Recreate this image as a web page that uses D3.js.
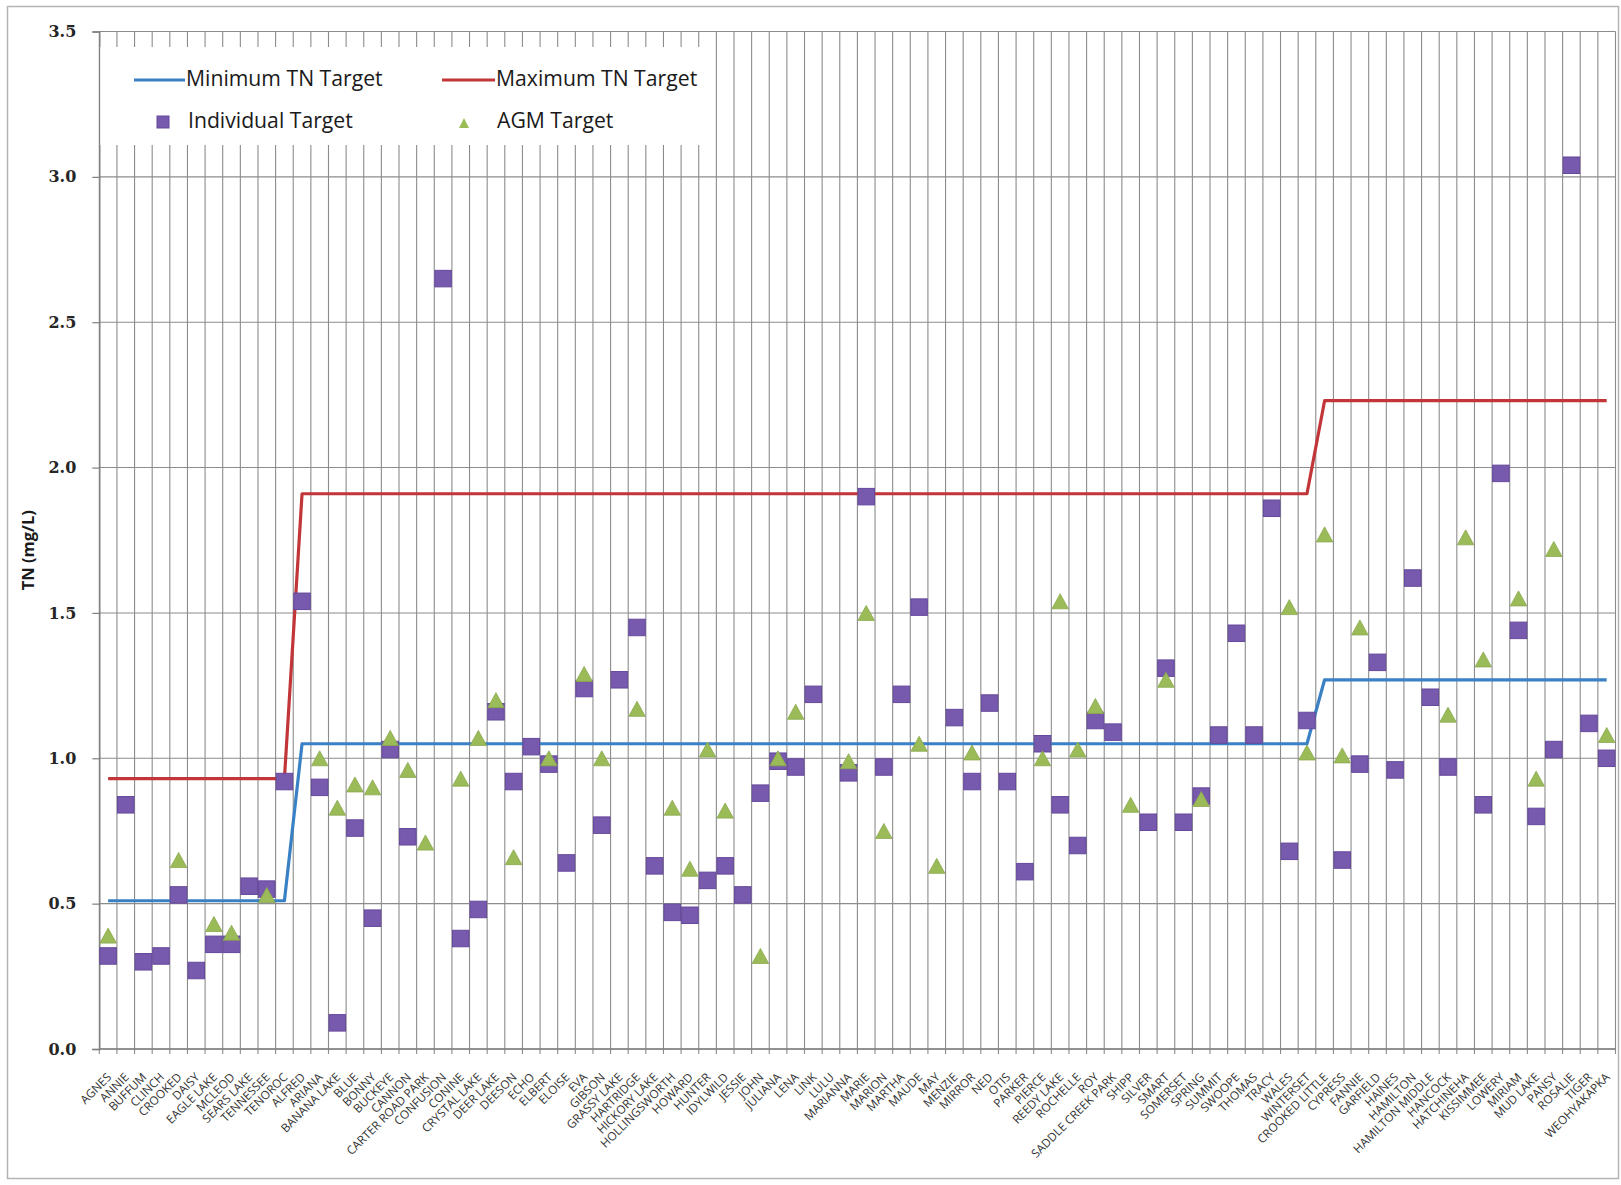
<!DOCTYPE html>
<html>
<head>
<meta charset="utf-8">
<script src="https://cdn.jsdelivr.net/npm/d3@7"></script>
<style>
  html, body { margin: 0; padding: 0; background: #ffffff; }
  svg { display: block; }
</style>
</head>
<body>
<svg id="chart" width="1621" height="1185"></svg>
<script>
// Lakes along the x axis
const categories = [
  "AGNES","ANNIE","BUFFUM","CLINCH","CROOKED","DAISY","EAGLE LAKE","MCLEOD","SEARS LAKE","TENNESSEE","TENOROC",
  "ALFRED","ARIANA","BANANA LAKE","BLUE","BONNY","BUCKEYE","CANNON","CARTER ROAD PARK","CONFUSION","CONINE",
  "CRYSTAL LAKE","DEER LAKE","DEESON","ECHO","ELBERT","ELOISE","EVA","GIBSON","GRASSY LAKE","HARTRIDGE",
  "HICKORY LAKE","HOLLINGSWORTH","HOWARD","HUNTER","IDYLWILD","JESSIE","JOHN","JULIANA","LENA","LINK","LULU",
  "MARIANNA","MARIE","MARION","MARTHA","MAUDE","MAY","MENZIE","MIRROR","NED","OTIS","PARKER","PIERCE",
  "REEDY LAKE","ROCHELLE","ROY","SADDLE CREEK PARK","SHIPP","SILVER","SMART","SOMERSET","SPRING","SUMMIT",
  "SWOOPE","THOMAS","TRACY","WALES","WINTERSET","CROOKED LITTLE","CYPRESS","FANNIE","GARFIELD","HAINES",
  "HAMILTON","HAMILTON MIDDLE","HANCOCK","HATCHINEHA","KISSIMMEE","LOWERY","MIRIAM","MUD LAKE","PANSY",
  "ROSALIE","TIGER","WEOHYAKAPKA"
];

// Individual TN target per lake (mg/L); null where none is set
const individualTarget = [
  0.32, 0.84, 0.30, 0.32, 0.53, 0.27, 0.36, 0.36, 0.56, 0.55, 0.92,
  1.54, 0.90, 0.09, 0.76, 0.45, 1.03, 0.73, null, 2.65, 0.38,
  0.48, 1.16, 0.92, 1.04, 0.98, 0.64, 1.24, 0.77, 1.27, 1.45,
  0.63, 0.47, 0.46, 0.58, 0.63, 0.53, 0.88, 0.99, 0.97, 1.22, null,
  0.95, 1.90, 0.97, 1.22, 1.52, null, 1.14, 0.92, 1.19, 0.92, 0.61, 1.05,
  0.84, 0.70, 1.13, 1.09, null, 0.78, 1.31, 0.78, 0.87, 1.08,
  1.43, 1.08, 1.86, 0.68, 1.13, null, 0.65, 0.98, 1.33, 0.96,
  1.62, 1.21, 0.97, null, 0.84, 1.98, 1.44, 0.80, 1.03,
  3.04, 1.12, 1.00
];

// AGM TN target per lake (mg/L); null where none is set
const agmTarget = [
  0.39, null, null, null, 0.65, null, 0.43, 0.40, null, 0.53, null,
  null, 1.00, 0.83, 0.91, 0.90, 1.07, 0.96, 0.71, null, 0.93,
  1.07, 1.20, 0.66, null, 1.00, null, 1.29, 1.00, null, 1.17,
  null, 0.83, 0.62, 1.03, 0.82, null, 0.32, 1.00, 1.16, null, null,
  0.99, 1.50, 0.75, null, 1.05, 0.63, null, 1.02, null, null, null, 1.00,
  1.54, 1.03, 1.18, null, 0.84, null, 1.27, null, 0.86, null,
  null, null, null, 1.52, 1.02, 1.77, 1.01, 1.45, null, null,
  null, null, 1.15, 1.76, 1.34, null, 1.55, 0.93, 1.72,
  null, null, 1.08
];

// Minimum TN target by lake class
const minTarget = [
  0.51, 0.51, 0.51, 0.51, 0.51, 0.51, 0.51, 0.51, 0.51, 0.51, 0.51,
  1.05, 1.05, 1.05, 1.05, 1.05, 1.05, 1.05, 1.05, 1.05, 1.05,
  1.05, 1.05, 1.05, 1.05, 1.05, 1.05, 1.05, 1.05, 1.05, 1.05,
  1.05, 1.05, 1.05, 1.05, 1.05, 1.05, 1.05, 1.05, 1.05, 1.05, 1.05,
  1.05, 1.05, 1.05, 1.05, 1.05, 1.05, 1.05, 1.05, 1.05, 1.05, 1.05, 1.05,
  1.05, 1.05, 1.05, 1.05, 1.05, 1.05, 1.05, 1.05, 1.05, 1.05,
  1.05, 1.05, 1.05, 1.05, 1.05, 1.27, 1.27, 1.27, 1.27, 1.27,
  1.27, 1.27, 1.27, 1.27, 1.27, 1.27, 1.27, 1.27, 1.27,
  1.27, 1.27, 1.27
];

// Maximum TN target by lake class
const maxTarget = [
  0.93, 0.93, 0.93, 0.93, 0.93, 0.93, 0.93, 0.93, 0.93, 0.93, 0.93,
  1.91, 1.91, 1.91, 1.91, 1.91, 1.91, 1.91, 1.91, 1.91, 1.91,
  1.91, 1.91, 1.91, 1.91, 1.91, 1.91, 1.91, 1.91, 1.91, 1.91,
  1.91, 1.91, 1.91, 1.91, 1.91, 1.91, 1.91, 1.91, 1.91, 1.91, 1.91,
  1.91, 1.91, 1.91, 1.91, 1.91, 1.91, 1.91, 1.91, 1.91, 1.91, 1.91, 1.91,
  1.91, 1.91, 1.91, 1.91, 1.91, 1.91, 1.91, 1.91, 1.91, 1.91,
  1.91, 1.91, 1.91, 1.91, 1.91, 2.23, 2.23, 2.23, 2.23, 2.23,
  2.23, 2.23, 2.23, 2.23, 2.23, 2.23, 2.23, 2.23, 2.23,
  2.23, 2.23, 2.23
];

const yTicks = [0, 0.5, 1.0, 1.5, 2.0, 2.5, 3.0, 3.5];
const yTitle = "TN (mg/L)";
const legendNames = ["Minimum TN Target", "Maximum TN Target", "Individual Target", "AGM Target"];

// ---- layout & styles ----
const COLORS = { min: "#3a80c4", max: "#c23539", square: "#7759ad", squareEdge: "#65499c", tri: "#9bbb59", grid: "#8c8c8c" };
const plot = { left: 99.3, right: 1615.5, top: 31.5, bottom: 1049 };

const svg = d3.select("#chart");

// chart frame
svg.append("rect")
  .attr("x", 7.5).attr("y", 6.5).attr("width", 1611).attr("height", 1172)
  .attr("fill", "#ffffff").attr("stroke", "#b4b4b4").attr("stroke-width", 1.5);

const x = d3.scaleBand().domain(categories).range([plot.left, plot.right]).padding(0);
const y = d3.scaleLinear().domain([0, 3.5]).range([plot.bottom, plot.top]);
const cx = d => x(d) + x.bandwidth() / 2;

// vertical gridlines at category boundaries
const bounds = categories.map(c => x(c)).concat([plot.right]);
const grid = svg.append("g").attr("class", "grid");
grid.selectAll("line.v").data(bounds).join("line")
  .attr("class", "v")
  .attr("x1", d => d).attr("x2", d => d)
  .attr("y1", plot.top).attr("y2", plot.bottom + 5)
  .attr("stroke", COLORS.grid).attr("stroke-width", 1.1);

// horizontal gridlines
grid.selectAll("line.h").data(yTicks).join("line")
  .attr("class", "h")
  .attr("x1", plot.left).attr("x2", plot.right)
  .attr("y1", d => y(d)).attr("y2", d => y(d))
  .attr("stroke", COLORS.grid).attr("stroke-width", 1.1);

// y axis
const yAxis = svg.append("g")
  .attr("transform", `translate(${plot.left},0)`)
  .call(d3.axisLeft(y).tickValues(yTicks).tickFormat(d3.format(".1f")).tickSize(7).tickPadding(16));
yAxis.select(".domain").attr("stroke", "#7f7f7f").attr("stroke-width", 1.4);
yAxis.selectAll(".tick line").attr("stroke", "#7f7f7f").attr("stroke-width", 1.2);
yAxis.selectAll(".tick text")
  .attr("font-family", "DejaVu Serif").attr("font-weight", "bold").attr("font-size", 16).attr("fill", "#262626");

// x axis baseline
svg.append("line")
  .attr("x1", plot.left).attr("x2", plot.right)
  .attr("y1", plot.bottom).attr("y2", plot.bottom)
  .attr("stroke", "#7f7f7f").attr("stroke-width", 1.6);

// x category labels
const xAxis = svg.append("g")
  .attr("transform", `translate(0,${plot.bottom})`)
  .call(d3.axisBottom(x).tickSize(0).tickPadding(0));
xAxis.select(".domain").remove();
xAxis.selectAll(".tick text")
  .attr("font-family", "Open Sans").attr("font-size", 11.8).attr("fill", "#333333")
  .attr("text-anchor", "end")
  .attr("dy", "0.35em").attr("y", 0)
  .attr("transform", "translate(1,26) rotate(-45)");

// y axis title
svg.append("text")
  .attr("transform", `translate(34,${(plot.top + plot.bottom) / 2 + 10}) rotate(-90)`)
  .attr("text-anchor", "middle")
  .attr("font-family", "Open Sans").attr("font-weight", "bold").attr("font-size", 16.5).attr("fill", "#1a1a1a")
  .text(yTitle);

// target lines
const line = d3.line().x((d, i) => cx(categories[i])).y(d => y(d));
svg.append("path").datum(minTarget).attr("d", line)
  .attr("fill", "none").attr("stroke", COLORS.min).attr("stroke-width", 3.2).attr("stroke-linejoin", "round");
svg.append("path").datum(maxTarget).attr("d", line)
  .attr("fill", "none").attr("stroke", COLORS.max).attr("stroke-width", 3.2).attr("stroke-linejoin", "round");

// individual target markers
const SQ = 16.5;
const indData = categories.map((c, i) => ({ c, v: individualTarget[i] })).filter(d => d.v != null);
svg.append("g").selectAll("rect").data(indData).join("rect")
  .attr("x", d => cx(d.c) - SQ / 2).attr("y", d => y(d.v) - SQ / 2)
  .attr("width", SQ).attr("height", SQ)
  .attr("fill", COLORS.square).attr("stroke", COLORS.squareEdge).attr("stroke-width", 1);

// AGM target markers
const TW = 16.5, TH = 15;
const agmData = categories.map((c, i) => ({ c, v: agmTarget[i] })).filter(d => d.v != null);
const triPath = (w, h) => `M0,${-h / 2}L${w / 2},${h / 2}L${-w / 2},${h / 2}Z`;
svg.append("g").selectAll("path").data(agmData).join("path")
  .attr("transform", d => `translate(${cx(d.c)},${y(d.v)})`)
  .attr("d", triPath(TW, TH))
  .attr("fill", COLORS.tri).attr("stroke", "#8aa84c").attr("stroke-width", 0.8);

// legend
const legend = svg.append("g");
legend.append("rect").attr("x", plot.left + 1).attr("y", 47).attr("width", 612).attr("height", 98).attr("fill", "#ffffff");
const legFont = { family: "Open Sans", size: 21.2 };
function legText(xp, yp, t) {
  legend.append("text").attr("x", xp).attr("y", yp).attr("dy", "0.35em")
    .attr("font-family", legFont.family).attr("font-size", legFont.size).attr("fill", "#1a1a1a").text(t);
}
legend.append("line").attr("x1", 134).attr("x2", 185).attr("y1", 80).attr("y2", 80)
  .attr("stroke", COLORS.min).attr("stroke-width", 3.2);
legText(186, 79, legendNames[0]);
legend.append("line").attr("x1", 442).attr("x2", 495).attr("y1", 80).attr("y2", 80)
  .attr("stroke", COLORS.max).attr("stroke-width", 3.2);
legText(496, 79, legendNames[1]);
legend.append("rect").attr("x", 157).attr("y", 116).attr("width", 12).attr("height", 12)
  .attr("fill", COLORS.square).attr("stroke", COLORS.squareEdge).attr("stroke-width", 1);
legText(188, 121, legendNames[2]);
legend.append("path").attr("transform", "translate(464,123)").attr("d", triPath(10, 10))
  .attr("fill", COLORS.tri);
legText(497, 121, legendNames[3]);
</script>
</body>
</html>
